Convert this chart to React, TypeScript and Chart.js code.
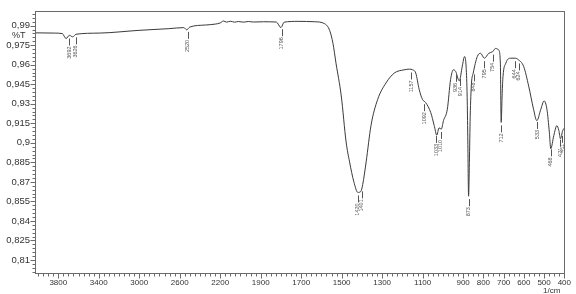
import React, { useEffect, useRef } from "react";
import { Chart, registerables } from "chart.js";
Chart.register(...registerables);

// ---- data (wavenumber in 1/cm, transmittance) ----
const wavenumbers = [
  4025, 3838, 3760, 3723, 3690, 3658, 3625, 3396, 3003, 2708, 2560, 2531, 2501, 2347, 2250, 2200, 2167, 2138,
  2098, 2059, 2020, 1985, 1961, 1936, 1887, 1823, 1800, 1784, 1715, 1633, 1584, 1559, 1543, 1528, 1502,
  1478, 1461, 1440, 1420, 1405, 1396, 1379, 1355, 1322, 1281, 1240, 1191, 1165, 1150, 1134, 1117, 1101,
  1085, 1060, 1043, 1030, 1019, 1008, 997, 978, 962, 948, 937, 919, 904, 893, 885, 880, 877, 873, 869,
  865, 859, 850, 830, 814, 795, 773, 754, 740, 724, 716, 712, 707, 703, 689, 667, 642, 626, 601, 576,
  552, 536, 516, 500, 486, 474, 467, 452, 437, 427, 419, 408, 401,
];
const transmittance = [
  0.9845, 0.9843, 0.9839, 0.9801, 0.9826, 0.9814, 0.9834, 0.9843, 0.9864, 0.9877, 0.9885, 0.9868, 0.9889,
  0.9905, 0.9912, 0.9921, 0.9936, 0.9927, 0.9934, 0.9927, 0.9932, 0.9927, 0.9932, 0.9928, 0.993, 0.9928, 0.9885,
  0.9927, 0.9933, 0.993, 0.9915, 0.9862, 0.9764, 0.9612, 0.936, 0.9006, 0.8854, 0.8702, 0.8619, 0.8627,
  0.868, 0.8854, 0.9134, 0.9334, 0.946, 0.9536, 0.9561, 0.9566, 0.9561, 0.9536, 0.941, 0.9334, 0.9309,
  0.9233, 0.9134, 0.9059, 0.9115, 0.9105, 0.917, 0.9258, 0.9485, 0.9561, 0.9549, 0.9476, 0.9589, 0.9663,
  0.958, 0.935, 0.905, 0.859, 0.885, 0.92, 0.945, 0.9536, 0.9663, 0.9688, 0.965, 0.9688, 0.97, 0.9725,
  0.9713, 0.9612, 0.9157, 0.938, 0.951, 0.9612, 0.965, 0.965, 0.9637, 0.9587, 0.9435, 0.9258, 0.917,
  0.9258, 0.9322, 0.9258, 0.9081, 0.8955, 0.9056, 0.9132, 0.9094, 0.9031, 0.9094, 0.9112,
];
const peakLabels = [
  3692, 3626, 2520, 1796, 1420, 1401, 1157, 1092, 1033, 1010, 936, 914, 873, 848, 795, 754, 712, 644,
  624, 533, 468, 421, 411,
];
const xTickLabels = [3800, 3400, 3000, 2600, 2200, 1900, 1700, 1500, 1300, 1100, 900, 800, 700, 600, 500, 400];
const yTickLabels = [0.99, 0.975, 0.96, 0.945, 0.93, 0.915, 0.9, 0.885, 0.87, 0.855, 0.84, 0.825, 0.81];
const xRange = [400, 4030];
const yRange = [0.8, 1.0015];

// axis is compressed 2:1 above 2000 1/cm
const toU = (w: number) => (w <= 2000 ? w : 2000 + (w - 2000) / 2);
const fromU = (u: number) => (u <= 2000 ? u : 2000 + (u - 2000) * 2);

const interp = (w: number) => {
  for (let i = 0; i < wavenumbers.length - 1; i++) {
    const a = wavenumbers[i], b = wavenumbers[i + 1];
    if (w <= a && w >= b) {
      const t = (w - a) / (b - a);
      return transmittance[i] + t * (transmittance[i + 1] - transmittance[i]);
    }
  }
  return transmittance[transmittance.length - 1];
};

const FONT = "'Liberation Sans', Arial, sans-serif";

const decor = {
  id: "decor",
  afterDraw(chart: any) {
    const { ctx, chartArea: a, scales } = chart;
    const xs = scales.x, ys = scales.y;
    ctx.save();
    ctx.strokeStyle = "#6a6a6a";
    ctx.lineWidth = 1;
    ctx.strokeRect(Math.round(a.left) + 0.5, Math.round(a.top) + 0.5, Math.round(a.right - a.left), Math.round(a.bottom - a.top));
    // x ticks
    ctx.beginPath();
    const xb = Math.round(a.bottom) + 0.5;
    for (let w = 4000; w >= 400; w -= w > 2000 ? 50 : 25) {
      const px = Math.round(xs.getPixelForValue(toU(w))) + 0.5;
      const major = xTickLabels.includes(w);
      ctx.moveTo(px, xb);
      ctx.lineTo(px, xb + (major ? 5 : 3));
    }
    // y ticks
    const yl = Math.round(a.left) + 0.5;
    for (let k = 267; k <= 333; k++) {
      const v = k * 0.003;
      if (v < yRange[0] || v > yRange[1]) continue;
      const py = Math.round(ys.getPixelForValue(v)) + 0.5;
      const major = k % 5 === 0;
      ctx.moveTo(yl, py);
      ctx.lineTo(yl - (major ? 5 : 3), py);
    }
    ctx.stroke();

    // axis labels
    ctx.fillStyle = "#333";
    ctx.font = `9px ${FONT}`;
    ctx.textBaseline = "middle";
    ctx.textAlign = "left";
    ctx.fillText("%T", 12, ys.getPixelForValue(0.9822));
    ctx.font = `8px ${FONT}`;
    ctx.textAlign = "right";
    ctx.textBaseline = "bottom";
    ctx.fillText("1/cm", a.right - 4, 295);

    // peak labels
    ctx.strokeStyle = "#555";
    ctx.fillStyle = "#555";
    ctx.font = `5.5px ${FONT}`;
    ctx.beginPath();
    for (const w of peakLabels) {
      const px = Math.round(xs.getPixelForValue(toU(w))) + 0.5;
      const py = ys.getPixelForValue(interp(w));
      ctx.moveTo(px, py + 3);
      ctx.lineTo(px, py + 10);
    }
    ctx.stroke();
    for (const w of peakLabels) {
      const px = xs.getPixelForValue(toU(w));
      const py = ys.getPixelForValue(interp(w));
      ctx.save();
      ctx.translate(px, py + 11);
      ctx.rotate(-Math.PI / 2);
      ctx.textAlign = "right";
      ctx.textBaseline = "middle";
      ctx.fillText(String(w), 0, 0);
      ctx.restore();
    }
    ctx.restore();
  },
};

export default function App() {
  const ref = useRef<HTMLCanvasElement>(null);
  useEffect(() => {
    if (!ref.current) return;
    const chart = new Chart(ref.current, {
      type: "line",
      data: {
        datasets: [
          {
            data: wavenumbers.map((w, i) => ({ x: toU(w), y: transmittance[i] })),
            borderColor: "#3a3a3a",
            borderWidth: 1,
            pointRadius: 0,
            cubicInterpolationMode: "monotone",
            fill: false,
          },
        ],
      },
      options: {
        animation: false,
        responsive: false,
        layout: { padding: { top: 7, right: 8, left: 0, bottom: 0 } },
        plugins: { legend: { display: false }, tooltip: { enabled: false } },
        scales: {
          x: {
            type: "linear",
            reverse: true,
            min: toU(xRange[0]),
            max: toU(xRange[1]),
            grid: { display: false, drawTicks: false },
            border: { display: false },
            afterBuildTicks: (s: any) => {
              s.ticks = xTickLabels.map((w) => ({ value: toU(w) }));
            },
            afterFit: (s: any) => {
              s.height = 21;
            },
            ticks: {
              callback: (v: any) => String(Math.round(fromU(Number(v)))),
              font: { size: 8, family: FONT },
              color: "#333",
              padding: 5,
              maxRotation: 0,
              autoSkip: false,
            },
          },
          y: {
            type: "linear",
            min: yRange[0],
            max: yRange[1],
            grid: { display: false, drawTicks: false },
            border: { display: false },
            afterBuildTicks: (s: any) => {
              s.ticks = yTickLabels.map((v) => ({ value: v }));
            },
            afterFit: (s: any) => {
              s.width = 35;
            },
            ticks: {
              callback: (v: any) => String(Math.round(Number(v) * 1000) / 1000).replace(".", ","),
              font: { size: 9.5, family: FONT },
              color: "#333",
              padding: 5,
              autoSkip: false,
            },
          },
        },
      },
      plugins: [decor],
    } as any);
    return () => chart.destroy();
  }, []);
  return (
    <div style={{ position: "fixed", left: 0, top: 0, width: 576, height: 294, background: "#fff" }}>
      <canvas ref={ref} width={576} height={294} />
    </div>
  );
}
